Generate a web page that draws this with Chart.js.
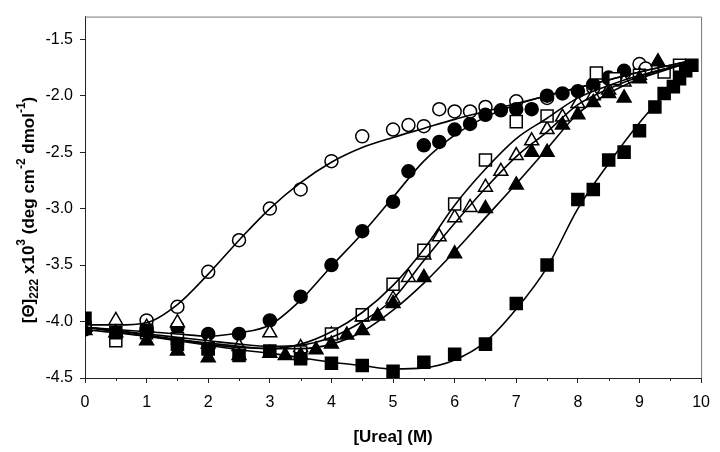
<!DOCTYPE html>
<html>
<head>
<meta charset="utf-8">
<script src="https://cdn.jsdelivr.net/npm/chart.js@4"></script>
<style>
  html, body { margin: 0; padding: 0; background: #fff; }
  #wrap { width: 720px; height: 452px; }
</style>
</head>
<body>
<div id="wrap"><canvas id="ureaChart" width="720" height="452"></canvas></div>
<script>
const openCircleX = [0, 1, 1.5, 2, 2.5, 3, 3.5, 4, 4.5, 5, 5.25, 5.5, 5.75, 6, 6.25, 6.5, 7, 7.5, 8.25, 8.5, 8.75, 9, 9.1];
const openCircleY = [-4.05, -3.99, -3.87, -3.56, -3.28, -3.0, -2.83, -2.58, -2.36, -2.3, -2.26, -2.27, -2.12, -2.14, -2.14, -2.1, -2.05, -2.02, -1.93, -1.85, -1.8, -1.72, -1.76];

const filledCircleX = [0, 1, 1.5, 2, 2.5, 3, 3.5, 4, 4.5, 5, 5.25, 5.5, 5.75, 6, 6.25, 6.5, 6.75, 7, 7.25, 7.5, 7.75, 8, 8.25, 8.5, 8.75];
const filledCircleY = [-4.07, -4.07, -4.05, -4.11, -4.11, -3.99, -3.78, -3.5, -3.2, -2.94, -2.67, -2.44, -2.41, -2.3, -2.25, -2.17, -2.13, -2.12, -2.12, -2.0, -1.98, -1.96, -1.9, -1.84, -1.78];

const openSquareX = [0, 0.5, 1, 1.5, 2, 3.5, 4, 4.5, 5, 5.5, 6, 6.5, 7, 7.5, 8.3, 8.6, 9, 9.4, 9.65];
const openSquareY = [-4.05, -4.17, -4.1, -4.15, -4.24, -4.27, -4.11, -3.94, -3.67, -3.37, -2.96, -2.57, -2.23, -2.18, -1.8, -1.85, -1.82, -1.79, -1.73];

const openTriX = [0, 0.5, 1, 1.5, 2, 2.5, 3, 3.5, 4, 4.5, 5, 5.25, 5.5, 5.75, 6, 6.25, 6.5, 6.75, 7, 7.25, 7.5, 7.75, 8, 8.25, 8.5, 8.75, 9];
const openTriY = [-4.05, -3.99, -4.05, -4.01, -4.2, -4.22, -4.1, -4.23, -4.12, -3.96, -3.8, -3.61, -3.41, -3.25, -3.08, -2.99, -2.81, -2.67, -2.53, -2.4, -2.3, -2.19, -2.07, -2.0, -1.95, -1.88, -1.82];

const filledTriX = [0, 0.5, 1, 1.5, 2, 2.5, 3, 3.25, 3.5, 3.75, 4, 4.25, 4.5, 4.75, 5, 5.5, 6, 6.5, 7, 7.25, 7.5, 7.75, 8, 8.25, 8.5, 8.75, 9, 9.3];
const filledTriY = [-4.08, -4.1, -4.17, -4.26, -4.32, -4.3, -4.28, -4.3, -4.3, -4.25, -4.2, -4.12, -4.08, -3.95, -3.84, -3.61, -3.4, -3.0, -2.79, -2.5, -2.5, -2.26, -2.17, -2.06, -1.98, -2.02, -1.85, -1.7];

const filledSquareX = [0, 0.5, 1, 1.5, 2, 2.5, 3, 3.5, 4, 4.5, 5, 5.5, 6, 6.5, 7, 7.5, 8, 8.25, 8.5, 8.75, 9, 9.25, 9.4, 9.55, 9.65, 9.75, 9.85];
const filledSquareY = [-3.97, -4.1, -4.08, -4.2, -4.24, -4.3, -4.26, -4.33, -4.37, -4.39, -4.44, -4.36, -4.29, -4.2, -3.84, -3.5, -2.92, -2.83, -2.57, -2.5, -2.31, -2.1, -1.98, -1.92, -1.85, -1.78, -1.73];

// fitted curves, sampled from the figure
const fitX = [0, 0.5, 1, 1.5, 2, 2.5, 3, 3.5, 4, 4.5, 5, 5.5, 6, 6.5, 7, 7.5, 8, 8.5, 9, 9.5, 9.85];
const openCircleFit   = [-4.03, -4.03, -4.01, -3.85, -3.58, -3.28, -3.0, -2.77, -2.59, -2.46, -2.37, -2.29, -2.21, -2.14, -2.07, -2.0, -1.93, -1.86, -1.79, -1.73, -1.69];
const filledCircleFit = [-4.05, -4.07, -4.09, -4.11, -4.13, -4.1, -4.03, -3.81, -3.51, -3.22, -2.9, -2.58, -2.35, -2.19, -2.08, -2.0, -1.93, -1.86, -1.79, -1.73, -1.69];
const openSquareFit   = [-4.05, -4.08, -4.12, -4.16, -4.2, -4.23, -4.24, -4.2, -4.09, -3.92, -3.68, -3.36, -2.97, -2.65, -2.38, -2.2, -2.02, -1.91, -1.82, -1.75, -1.7];
const openTriFit      = [-4.05, -4.08, -4.11, -4.14, -4.17, -4.2, -4.22, -4.21, -4.14, -4.0, -3.8, -3.46, -3.13, -2.82, -2.54, -2.32, -2.08, -1.94, -1.83, -1.75, -1.7];
const filledTriFit    = [-4.07, -4.1, -4.13, -4.16, -4.19, -4.22, -4.24, -4.24, -4.2, -4.09, -3.9, -3.66, -3.38, -3.08, -2.78, -2.47, -2.16, -1.98, -1.85, -1.76, -1.7];
const filledSquareFit = [-4.05, -4.09, -4.13, -4.17, -4.21, -4.25, -4.28, -4.32, -4.36, -4.39, -4.42, -4.41, -4.34, -4.18, -3.89, -3.52, -3.0, -2.6, -2.24, -1.93, -1.72];

const xTicks = [0, 1, 2, 3, 4, 5, 6, 7, 8, 9, 10];
const yTicks = [-4.5, -4.0, -3.5, -3.0, -2.5, -2.0, -1.5];

const FONT = "'Liberation Sans', Arial, sans-serif";

function pts(xs, ys) {
    return xs.map((x, i) => ({ x: x, y: ys[i] }));
}

function markers(xs, ys, style, filled, radius) {
    return {
        type: 'scatter',
        data: pts(xs, ys),
        pointStyle: style,
        pointRadius: radius,
        borderWidth: 1.5,
        borderColor: '#000',
        backgroundColor: filled ? '#000' : '#fff',
        order: 2
    };
}

function fitLine(ys) {
    return {
        type: 'line',
        data: pts(fitX, ys),
        borderColor: '#000',
        borderWidth: 1.6,
        pointRadius: 0,
        fill: false,
        cubicInterpolationMode: 'monotone',
        order: 1
    };
}

// frame, minor x ticks and the axis titles (with sub/superscripts)
const decorPlugin = {
    id: 'decor',
    afterDraw(chart) {
        const ctx = chart.ctx;
        const a = chart.chartArea;
        const xs = chart.scales.x;
        ctx.save();
        ctx.strokeStyle = '#777';
        ctx.lineWidth = 1;
        ctx.beginPath();
        ctx.moveTo(a.left, a.top + 0.5);
        ctx.lineTo(a.right + 0.5, a.top + 0.5);
        ctx.lineTo(a.right + 0.5, a.bottom);
        ctx.stroke();

        ctx.strokeStyle = '#222';
        ctx.beginPath();
        for (let v = 0.5; v < 10; v += 1) {
            const px = Math.round(xs.getPixelForValue(v)) + 0.5;
            ctx.moveTo(px, a.bottom);
            ctx.lineTo(px, a.bottom + 3);
        }
        ctx.stroke();

        // x title
        ctx.fillStyle = '#000';
        ctx.font = 'bold 17px ' + FONT;
        ctx.textAlign = 'center';
        ctx.textBaseline = 'middle';
        ctx.fillText('[Urea] (M)', (a.left + a.right) / 2, 437);

        // y title
        const parts = [
            ['[\u0398]', 0], ['222', 1], [' x10', 0], ['3', -1],
            [' (deg cm', 0], ['-2', -1], [' dmol', 0], ['-1', -1], [')', 0]
        ];
        const big = 'bold 17px ' + FONT;
        const small = 'bold 12px ' + FONT;
        let total = 0;
        parts.forEach(p => {
            ctx.font = p[1] === 0 ? big : small;
            total += ctx.measureText(p[0]).width;
        });
        ctx.translate(29, 210);
        ctx.rotate(-Math.PI / 2);
        ctx.textAlign = 'left';
        let cx = -total / 2;
        parts.forEach(p => {
            ctx.font = p[1] === 0 ? big : small;
            const dy = p[1] === 1 ? 6 : (p[1] === -1 ? -7 : 0);
            ctx.fillText(p[0], cx, dy);
            cx += ctx.measureText(p[0]).width;
        });
        ctx.restore();
    }
};

const chart = new Chart(document.getElementById('ureaChart'), {
    data: {
        datasets: [
            fitLine(openCircleFit),
            fitLine(filledCircleFit),
            fitLine(openSquareFit),
            fitLine(openTriFit),
            fitLine(filledTriFit),
            fitLine(filledSquareFit),
            markers(filledSquareX, filledSquareY, 'rect', true, 8.5),
            markers(filledTriX, filledTriY, 'triangle', true, 8),
            markers(openSquareX, openSquareY, 'rect', false, 8.5),
            markers(openTriX, openTriY, 'triangle', false, 8),
            markers(filledCircleX, filledCircleY, 'circle', true, 6.5),
            markers(openCircleX, openCircleY, 'circle', false, 6.5)
        ]
    },
    options: {
        responsive: false,
        animation: false,
        layout: { padding: { left: 0, right: 10, top: 3, bottom: 0 } },
        plugins: {
            legend: { display: false },
            tooltip: { enabled: false }
        },
        scales: {
            x: {
                type: 'linear',
                min: 0,
                max: 10,
                afterBuildTicks: s => { s.ticks = xTicks.map(v => ({ value: v })); },
                afterFit: s => { s.height = 74; },
                ticks: {
                    color: '#000',
                    font: { family: FONT, size: 16 },
                    padding: 10,
                    maxRotation: 0
                },
                grid: { drawOnChartArea: false, drawTicks: true, tickLength: 5, color: '#222' },
                border: { display: true, color: '#222', width: 1 }
            },
            y: {
                type: 'linear',
                min: -4.5,
                max: -1.3,
                afterBuildTicks: s => { s.ticks = yTicks.map(v => ({ value: v })); },
                afterFit: s => { s.width = 85; },
                ticks: {
                    color: '#000',
                    font: { family: FONT, size: 16 },
                    padding: 7,
                    callback: v => v.toFixed(1)
                },
                grid: { drawOnChartArea: false, drawTicks: true, tickLength: 5, color: '#222' },
                border: { display: true, color: '#222', width: 1 }
            }
        }
    },
    plugins: [decorPlugin]
});
</script>
</body>
</html>
